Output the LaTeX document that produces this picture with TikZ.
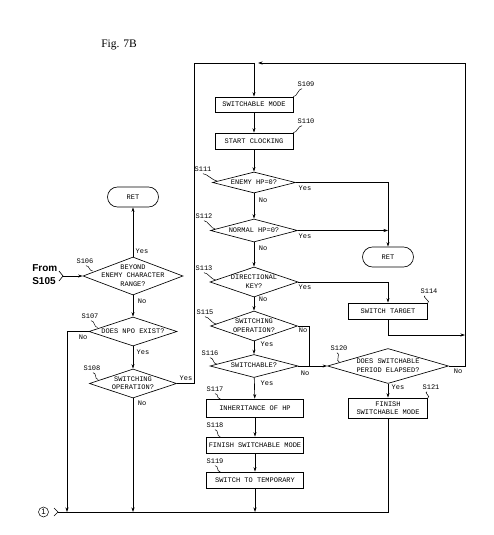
\documentclass[tikz,border=0pt]{standalone}
\usepackage{fontspec}
\setmainfont{Liberation Serif}
\newfontfamily\monof{Liberation Mono}
\newfontfamily\sansf{Liberation Sans}
\usetikzlibrary{shapes.geometric,arrows.meta}
\newcommand{\dtx}[1]{\makebox[0pt]{\smash{\raisebox{-0.5ex}{\begin{tabular}{@{}c@{}}#1\end{tabular}}}}}
\begin{document}
\begin{tikzpicture}[x=1pt,y=-1pt,line width=0.65pt,
  tx/.style={font=\monof\fontsize{7}{8.5}\selectfont},
  box/.style={draw,rectangle,inner sep=0pt,tx,align=center},
  dia/.style={draw,diamond,inner sep=0pt,tx},
  term/.style={draw,rectangle,rounded corners=10pt,inner sep=0pt,tx,minimum width=51pt,minimum height=20pt},
  lab/.style={tx,inner sep=0pt},
  yn/.style={tx,inner sep=0pt},
  arr/.style={-{Stealth[length=4.5pt,width=3pt]}},
  tild/.style={line width=0.5pt}]
\useasboundingbox (0,0) rectangle (493,535);
\node[font=\fontsize{11.5}{13}\selectfont] (title) at (119,45) {Fig. 7B};
% left column
\node[term] (ret1) at (133,197) {RET};
\node[dia,minimum width=100pt,minimum height=38pt] (s106) at (133,276) {\dtx{BEYOND\\ENEMY CHARACTER\\RANGE?}};
\node[dia,minimum width=88pt,minimum height=29pt] (s107) at (133,331.5) {\dtx{DOES NPO EXIST?}};
\node[dia,minimum width=87pt,minimum height=29pt] (s108) at (133,383.5) {\dtx{SWITCHING\\OPERATION?}};
% middle column
\node[box,minimum width=78pt,minimum height=15pt] (s109) at (254,104.5) {SWITCHABLE MODE};
\node[box,minimum width=78pt,minimum height=16pt] (s110) at (254,141) {START CLOCKING};
\node[dia,minimum width=83pt,minimum height=21pt] (s111) at (254,182.5) {\dtx{ENEMY HP=0?}};
\node[dia,minimum width=87pt,minimum height=23pt] (s112) at (254,230.5) {\dtx{NORMAL HP=0?}};
\node[dia,minimum width=88pt,minimum height=30pt] (s113) at (254,282) {\dtx{DIRECTIONAL\\KEY?}};
\node[dia,minimum width=87pt,minimum height=30pt] (s115) at (254,326) {\dtx{SWITCHING\\OPERATION?}};
\node[dia,minimum width=88pt,minimum height=23pt] (s116) at (254,366) {\dtx{SWITCHABLE?}};
\node[box,minimum width=97pt,minimum height=18pt] (s117) at (255,408) {INHERITANCE OF HP};
\node[box,minimum width=97pt,minimum height=16pt] (s118) at (255,445) {FINISH SWITCHABLE MODE};
\node[box,minimum width=97pt,minimum height=16pt] (s119) at (255,480) {SWITCH TO TEMPORARY};
% right column
\node[term] (ret2) at (388,257) {RET};
\node[box,minimum width=79pt,minimum height=16pt] (s114) at (388,311) {SWITCH TARGET};
\node[dia,minimum width=121pt,minimum height=35pt] (s120) at (388,366) {\dtx{DOES SWITCHABLE\\PERIOD ELAPSED?}};
\node[box,minimum width=79pt,minimum height=20pt] (s121) at (388,408) {FINISH\\SWITCHABLE MODE};
% step labels
\node[lab] (l106) at (85,261) {S106};
\node[lab] (l107) at (90,316) {S107};
\node[lab] (l108) at (92,368) {S108};
\node[lab] (l109) at (306,84) {S109};
\node[lab] (l110) at (306,121) {S110};
\node[lab] (l111) at (203,169) {S111};
\node[lab] (l112) at (204,216) {S112};
\node[lab] (l113) at (204,268) {S113};
\node[lab] (l115) at (205,312) {S115};
\node[lab] (l116) at (210,353) {S116};
\node[lab] (l117) at (215,389) {S117};
\node[lab] (l118) at (215,425) {S118};
\node[lab] (l119) at (215,461) {S119};
\node[lab] (l114) at (429,291) {S114};
\node[lab] (l120) at (339,348) {S120};
\node[lab] (l121) at (431,387) {S121};
% tildes
\draw[tild] ([shift={(1,2)}]l106.south) .. controls +(4,0) and +(-4,0) .. ([shift={(10,-5)}]s106.west);
\draw[tild] ([shift={(1,2)}]l107.south) .. controls +(4,0) and +(-4,0) .. ([shift={(9,-4)}]s107.west);
\draw[tild] ([shift={(1,2)}]l108.south) .. controls +(4,0) and +(-4,0) .. ([shift={(9,-4)}]s108.west);
\draw[tild] ([shift={(0,2)}]l111.south) .. controls +(4,0) and +(-4,0) .. ([shift={(5,-1.5)}]s111.west);
\draw[tild] ([shift={(0,2)}]l112.south) .. controls +(4,0) and +(-4,0) .. ([shift={(5,-1.5)}]s112.west);
\draw[tild] ([shift={(0,2)}]l113.south) .. controls +(4,0) and +(-4,0) .. ([shift={(6,-2)}]s113.west);
\draw[tild] ([shift={(0,2)}]l115.south) .. controls +(4,0) and +(-4,0) .. ([shift={(6,-2)}]s115.west);
\draw[tild] ([shift={(0,2)}]l116.south) .. controls +(4,0) and +(-4,0) .. ([shift={(7,-2)}]s116.west);
\draw[tild] ([shift={(0,2)}]l117.south) .. controls +(4,0) and +(-4,0) .. ([shift={(14,0)}]s117.north west);
\draw[tild] ([shift={(0,2)}]l118.south) .. controls +(4,0) and +(-4,0) .. ([shift={(14,0)}]s118.north west);
\draw[tild] ([shift={(0,2)}]l119.south) .. controls +(4,0) and +(-4,0) .. ([shift={(14,0)}]s119.north west);
\draw[tild] ([shift={(-2,2)}]l120.south) .. controls +(4,0) and +(-4,0) .. ([shift={(12,-4)}]s120.west);
\draw[tild] (s109.north east) .. controls +(4,0) and +(-4,0) .. ([shift={(-4,2)}]l109.south);
\draw[tild] (s110.north east) .. controls +(4,0) and +(-4,0) .. ([shift={(-4,2)}]l110.south);
\draw[tild] (s114.north east) .. controls +(4,0) and +(-4,0) .. ([shift={(-4,2)}]l114.south);
\draw[tild] (s121.north east) .. controls +(4,0) and +(-4,0) .. ([shift={(-4,2)}]l121.south);
% yes / no
\node[yn] (y106) at (142,251) {Yes};
\node[yn] (n106) at (142,301) {No};
\node[yn] (n107) at (83,337) {No};
\node[yn] (y107) at (143,352) {Yes};
\node[yn] (y108) at (186,378) {Yes};
\node[yn] (n108) at (142,403) {No};
\node[yn] (y111) at (305,188) {Yes};
\node[yn] (n111) at (263,200) {No};
\node[yn] (y112) at (305,236) {Yes};
\node[yn] (n112) at (263,248) {No};
\node[yn] (y113) at (305,287) {Yes};
\node[yn] (n113) at (263,299) {No};
\node[yn] (n115) at (303,330) {No};
\node[yn] (y115) at (267,344) {Yes};
\node[yn] (n116) at (305,373) {No};
\node[yn] (y116) at (267,383) {Yes};
\node[yn] (n120) at (458,371) {No};
\node[yn] (y120) at (398,387) {Yes};
% From S105 and connector 1
\node[font=\sansf\bfseries\fontsize{10}{13}\selectfont,align=left,inner sep=0pt,anchor=west] (from) at (32,275) {From\\S105};
\coordinate (fc) at (63,276);
\draw (59,271) -- (fc) -- (59,281);
\draw[arr] (fc) -- (s106.west);
\node[draw,circle,inner sep=0pt,minimum size=10pt,line width=0.5pt,font=\sansf\fontsize{8}{8}\selectfont] (c1) at (43.5,512) {1};
\coordinate (bc) at (58,512);
\draw (54,508) -- (bc) -- (54,516);
% junction coordinates
\coordinate (tl) at (194,63);
\coordinate (jt) at (254,63);
\coordinate (jtr) at (258,63);
\coordinate (tr) at (465,63);
\coordinate (r335) at (465,335);
\coordinate (j112) at (388,230.5);
\coordinate (j115) at (309,366);
\coordinate (b1) at (67,512);
\coordinate (b2) at (133,512);
\coordinate (b3) at (255,512);
% connectors left
\draw[arr] (s106.north) -- (ret1.south);
\draw[arr] (s106.south) -- (s107.north);
\draw[arr] (s107.south) -- (s108.north);
\draw[arr] (s107.west) -| (b1);
\draw[arr] (s108.south) -- (b2);
\draw (s108.east) -| (tl) -- (jt);
\draw[arr] (jt) -- (s109.north);
% connectors middle
\draw[arr] (s109) -- (s110);
\draw[arr] (s110) -- (s111);
\draw[arr] (s111) -- (s112);
\draw[arr] (s112) -- (s113);
\draw[arr] (s113) -- (s115);
\draw[arr] (s115) -- (s116);
\draw[arr] (s116) -- (s117);
\draw[arr] (s117) -- (s118);
\draw[arr] (s118) -- (s119);
\draw[arr] (s119.south) -- (b3);
\draw[arr] (s111.east) -| (ret2.north);
\draw[arr] (s112.east) -- (j112);
\draw[arr] (s113.east) -| (s114.north);
\draw[arr] (s114.south) |- (r335);
\draw (s115.east) -| (j115);
\draw[arr] (s116.east) -- (s120.west);
\draw[arr] (s120.south) -- (s121.north);
\draw[arr] (s120.east) -| (tr) -- (jtr);
\draw (s121.south) |- (bc);
\end{tikzpicture}
\end{document}
